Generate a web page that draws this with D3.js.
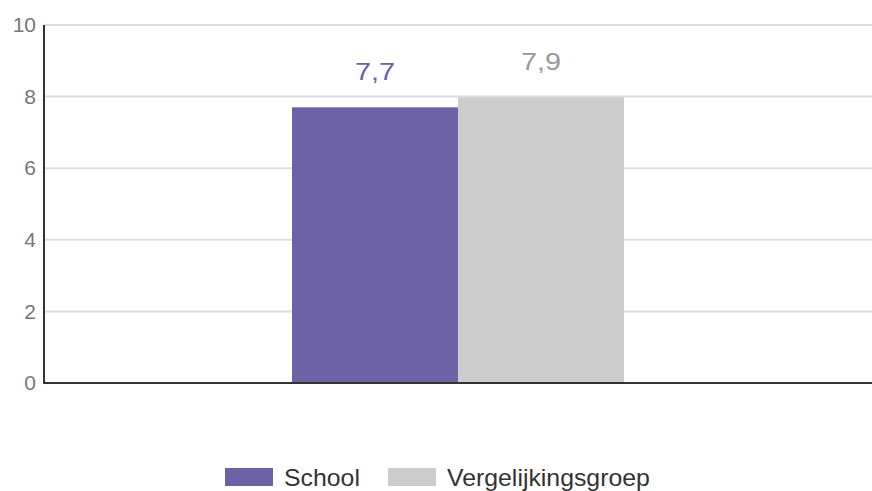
<!DOCTYPE html>
<html>
<head>
<meta charset="utf-8">
<script src="https://cdn.jsdelivr.net/npm/d3@7"></script>
<style>
  body { margin: 0; background: #fff; }
  svg { display: block; font-family: "Liberation Sans", Arial, sans-serif; }
</style>
</head>
<body>
<svg id="chart" width="872" height="491"></svg>
<script>
const categories = ["School", "Vergelijkingsgroep"];
const values = [7.7, 7.98];
const valueLabels = ["7,7", "7,9"];
const colors = ["#6e62a6", "#cccccc"];
const labelColors = ["#6e62a6", "#999999"];
const yTicks = [0, 2, 4, 6, 8, 10];

const svg = d3.select("#chart");
const margin = {left: 44, right: 0, top: 25, bottom: 108};
const width = 872, height = 491;

const y = d3.scaleLinear().domain([0, 10]).range([height - margin.bottom, margin.top]);
const group = d3.scaleBand().domain(["all"]).range([margin.left, width - margin.right]).paddingInner(0).paddingOuter(0.747);
const x = d3.scaleBand().domain(categories).range([0, group.bandwidth()]);

// grid
svg.append("g")
  .selectAll("line")
  .data(yTicks.filter(d => d > 0))
  .enter()
  .append("line")
  .attr("x1", margin.left).attr("x2", width)
  .attr("y1", d => y(d)).attr("y2", d => y(d))
  .attr("stroke", "#dddddd").attr("stroke-width", 2);

// y axis
const yAxis = svg.append("g")
  .attr("transform", `translate(${margin.left},0)`)
  .call(d3.axisLeft(y).tickValues(yTicks).tickSize(0).tickPadding(8));
yAxis.select(".domain").remove();
yAxis.selectAll("text").attr("fill", "#777777").style("font-size", "21px").attr("font-family", "Liberation Sans, Arial, sans-serif");

// bars
const bars = svg.append("g").attr("transform", `translate(${group("all")},0)`);
bars.selectAll("rect")
  .data(values)
  .enter()
  .append("rect")
  .attr("x", (d, i) => x(categories[i]))
  .attr("width", x.bandwidth())
  .attr("y", d => y(d))
  .attr("height", d => y(0) - y(d))
  .attr("fill", (d, i) => colors[i]);

bars.selectAll("text")
  .data(values)
  .enter()
  .append("text")
  .attr("transform", (d, i) => `translate(${x(categories[i]) + x.bandwidth() / 2},${y(d) - 27}) scale(1.2,1)`)
  .attr("text-anchor", "middle")
  .attr("fill", (d, i) => labelColors[i])
  .style("font-size", "24px")
  .text((d, i) => valueLabels[i]);

// axis lines
svg.append("line")
  .attr("x1", margin.left).attr("x2", margin.left)
  .attr("y1", y(10)).attr("y2", y(0) + 1)
  .attr("stroke", "#333").attr("stroke-width", 2);
svg.append("line")
  .attr("x1", margin.left - 1).attr("x2", width)
  .attr("y1", y(0)).attr("y2", y(0))
  .attr("stroke", "#333").attr("stroke-width", 2);

// legend
const legendX = [225, 388];
const legend = svg.append("g").selectAll("g")
  .data(categories)
  .enter()
  .append("g")
  .attr("transform", (d, i) => `translate(${legendX[i]},468)`);
legend.append("rect").attr("width", 48).attr("height", 18).attr("fill", (d, i) => colors[i]);
legend.append("text")
  .attr("transform", "translate(59,18) scale(1.08,1)")
  .attr("fill", "#333")
  .style("font-size", "23px")
  .text(d => d);
</script>
</body>
</html>
